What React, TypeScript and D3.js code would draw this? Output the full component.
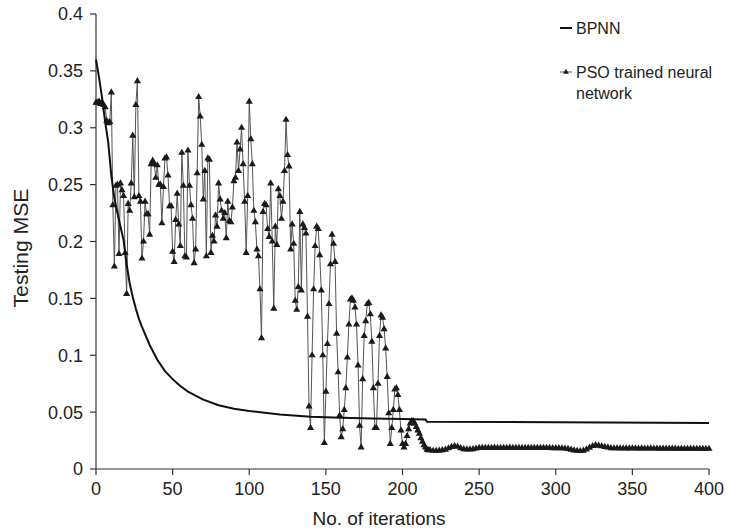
import React from "react";
import * as d3 from "d3";

// BPNN testing MSE (iteration, value)
const bpnnIter = [0, 1, 2, 4, 6, 8, 10, 12, 14, 16, 18, 20, 22, 24, 26, 28, 30, 35, 40, 45, 50, 55, 60, 70, 80, 90, 100, 120, 140, 160, 180, 200, 215, 216, 300, 400];
const bpnnValue = [0.36, 0.352, 0.344, 0.326, 0.305, 0.287, 0.258, 0.238, 0.225, 0.213, 0.201, 0.18, 0.163, 0.151, 0.141, 0.132, 0.125, 0.109, 0.096, 0.086, 0.079, 0.073, 0.068, 0.061, 0.056, 0.053, 0.051, 0.048, 0.046, 0.045, 0.0445, 0.044, 0.0435, 0.0416, 0.041, 0.0405];

// PSO trained network, one value per iteration from 0 to 217
const psoHead = [
  0.322, 0.322, 0.323, 0.321, 0.322, 0.320, 0.318, 0.306, 0.304, 0.305,
  0.331, 0.232, 0.178, 0.249, 0.250, 0.189, 0.251, 0.245, 0.240, 0.190,
  0.154, 0.233, 0.227, 0.251, 0.293, 0.239, 0.320, 0.341, 0.240, 0.235,
  0.185, 0.200, 0.235, 0.224, 0.224, 0.206, 0.268, 0.271, 0.268, 0.256,
  0.267, 0.250, 0.250, 0.216, 0.248, 0.273, 0.274, 0.258, 0.231, 0.231,
  0.191, 0.182, 0.219, 0.242, 0.215, 0.196, 0.278, 0.249, 0.187, 0.186,
  0.280, 0.249, 0.232, 0.220, 0.181, 0.193, 0.260, 0.327, 0.310, 0.285,
  0.237, 0.262, 0.187, 0.273, 0.272, 0.190, 0.205, 0.200, 0.223, 0.213,
  0.251, 0.237, 0.227, 0.220, 0.225, 0.203, 0.235, 0.218, 0.217, 0.230,
  0.253, 0.256, 0.287, 0.262, 0.281, 0.300, 0.268, 0.235, 0.190, 0.240,
  0.323, 0.290, 0.268, 0.227, 0.217, 0.193, 0.187, 0.158, 0.115, 0.226,
  0.233, 0.232, 0.211, 0.204, 0.251, 0.200, 0.141, 0.213, 0.197, 0.246,
  0.240, 0.220, 0.235, 0.262, 0.307, 0.276, 0.266, 0.193, 0.215, 0.198,
  0.148, 0.140, 0.160, 0.226, 0.157, 0.215, 0.212, 0.207, 0.134, 0.055,
  0.036, 0.100, 0.158, 0.196, 0.213, 0.211, 0.188, 0.157, 0.100, 0.023,
  0.068, 0.110, 0.145, 0.180, 0.206, 0.198, 0.182, 0.119, 0.085, 0.047,
  0.028, 0.035, 0.052, 0.071, 0.098, 0.127, 0.149, 0.150, 0.148, 0.142,
  0.127, 0.091, 0.038, 0.019, 0.079, 0.117, 0.130, 0.145, 0.146, 0.136,
  0.112, 0.071, 0.036, 0.036, 0.075, 0.117, 0.135, 0.133, 0.123, 0.106,
  0.081, 0.049, 0.022, 0.036, 0.052, 0.070, 0.071, 0.065, 0.052, 0.034,
  0.022, 0.019, 0.022, 0.029, 0.035, 0.040, 0.042, 0.042, 0.040, 0.037,
  0.034, 0.031, 0.027, 0.024, 0.021, 0.019, 0.017, 0.0165,
];

// flat tail, every 2nd iteration from 218 to 400
const psoTailStart = 218;
const psoTail = [
  0.0165, 0.016, 0.016, 0.0162, 0.0165, 0.017, 0.0182, 0.0195, 0.0202, 0.0196,
  0.0183, 0.0175, 0.0172, 0.0172, 0.0175, 0.018, 0.0185, 0.0186, 0.0186, 0.0185,
  0.0186, 0.0187, 0.0186, 0.0185, 0.0186, 0.0186, 0.0187, 0.0186, 0.0185, 0.0186,
  0.0186, 0.0185, 0.0186, 0.0186, 0.0185, 0.0185, 0.0186, 0.0186, 0.0185, 0.0185,
  0.0184, 0.0184, 0.0183, 0.0182, 0.018, 0.0176, 0.017, 0.0164, 0.016, 0.0158,
  0.0162, 0.0172, 0.0188, 0.0202, 0.021, 0.0206, 0.02, 0.0195, 0.019, 0.0184,
  0.0182, 0.0182, 0.0181, 0.0182, 0.0181, 0.0181, 0.0182, 0.0181, 0.018, 0.0181,
  0.018, 0.018, 0.0181, 0.018, 0.018, 0.0179, 0.018, 0.0179, 0.0179, 0.018,
  0.0179, 0.0178, 0.0179, 0.0178, 0.0178, 0.0179, 0.0178, 0.0178, 0.0178, 0.0177,
  0.0178, 0.0178,
];

const xTicks = [0, 50, 100, 150, 200, 250, 300, 350, 400];
const yTicks = [0, 0.05, 0.1, 0.15, 0.2, 0.25, 0.3, 0.35, 0.4];
const yTickLabels = ["0", "0.05", "0.1", "0.15", "0.2", "0.25", "0.3", "0.35", "0.4"];
const seriesNames = ["BPNN", "PSO trained neural", "network"];

const W = 732;
const H = 532;
const font = "'Liberation Sans', Arial, sans-serif";

export default function App() {
  const x = d3.scaleLinear().domain([0, 400]).range([96, 709]);
  const y = d3.scaleLinear().domain([0, 0.4]).range([469, 14]);

  const bpnn = bpnnIter.map((it, i) => [it, bpnnValue[i]] as [number, number]);
  const pso = [
    ...psoHead.map((v, i) => [i, v] as [number, number]),
    ...psoTail.map((v, i) => [psoTailStart + i * 2, v] as [number, number]),
  ];

  const line = d3
    .line<[number, number]>()
    .x((d) => x(d[0]))
    .y((d) => y(d[1]));

  const tri = d3.symbol().type(d3.symbolTriangle).size(22)() as string;
  const triSmall = d3.symbol().type(d3.symbolTriangle).size(14)() as string;

  const x0 = x(0);
  const y0 = y(0);

  return (
    <svg width={W} height={H} style={{ position: "absolute", left: 0, top: 0, background: "#fff" }}>
      {/* axes */}
      <line x1={x0} x2={x0} y1={y(0.4)} y2={y0} stroke="#333" strokeWidth={1.2} />
      <line x1={x0} x2={x(400)} y1={y0} y2={y0} stroke="#333" strokeWidth={1.2} />
      {yTicks.map((t, i) => (
        <g key={"y" + t}>
          <line x1={x0 - 6} x2={x0} y1={y(t)} y2={y(t)} stroke="#333" strokeWidth={1.2} />
          <text x={x0 - 13} y={y(t)} dy="0.36em" textAnchor="end" fontFamily={font} fontSize={18} fill="#222">
            {yTickLabels[i]}
          </text>
        </g>
      ))}
      {xTicks.map((t) => (
        <g key={"x" + t}>
          <line x1={x(t)} x2={x(t)} y1={y0} y2={y0 + 6} stroke="#333" strokeWidth={1.2} />
          <text x={x(t)} y={y0 + 26} textAnchor="middle" fontFamily={font} fontSize={18} fill="#222">
            {t}
          </text>
        </g>
      ))}
      <text x={379} y={525} textAnchor="middle" fontFamily={font} fontSize={19} fill="#222">
        No. of iterations
      </text>
      <text
        transform={`translate(28,248) rotate(-90)`}
        textAnchor="middle"
        fontFamily={font}
        fontSize={20}
        textLength={119}
        lengthAdjust="spacingAndGlyphs"
        fill="#222"
      >
        Testing MSE
      </text>

      {/* PSO series */}
      <path d={line(pso) as string} fill="none" stroke="#555" strokeWidth={1} />
      {pso.map((d, i) => (
        <path key={"m" + i} d={tri} transform={`translate(${x(d[0])},${y(d[1])})`} fill="#1a1a1a" />
      ))}

      {/* BPNN series */}
      <path d={line(bpnn) as string} fill="none" stroke="#111" strokeWidth={2} />

      {/* legend */}
      <line x1={560} x2={572} y1={28} y2={28} stroke="#111" strokeWidth={2} />
      <text x={576} y={33.5} fontFamily={font} fontSize={16} fill="#222">
        {seriesNames[0]}
      </text>
      <line x1={560} x2={572} y1={72} y2={72} stroke="#555" strokeWidth={1} />
      <path d={triSmall} transform="translate(566,72)" fill="#1a1a1a" />
      <text x={576} y={78} fontFamily={font} fontSize={16} fill="#222">
        {seriesNames[1]}
      </text>
      <text x={576} y={99} fontFamily={font} fontSize={16} fill="#222">
        {seriesNames[2]}
      </text>
    </svg>
  );
}
